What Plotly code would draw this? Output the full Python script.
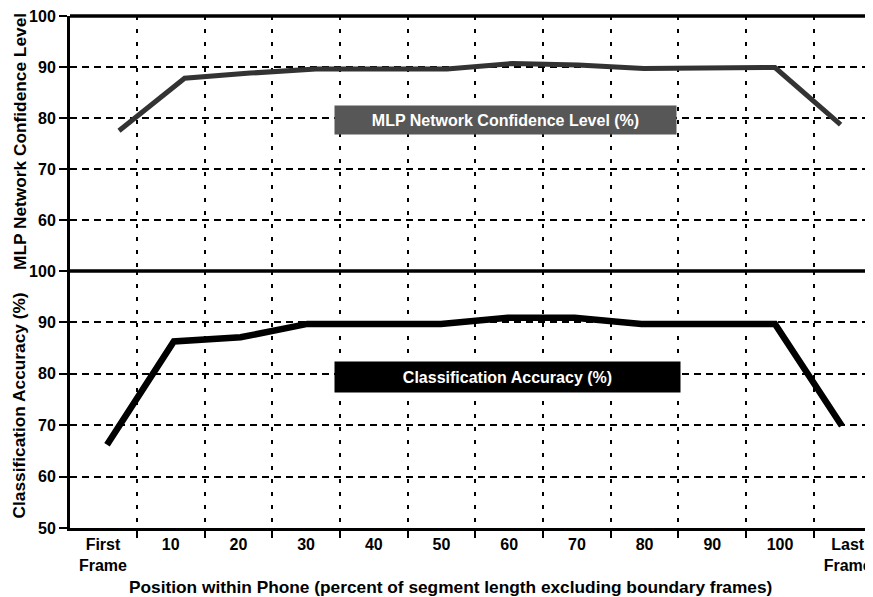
import plotly.graph_objects as go

# ---- data ----
categories = ["First<br>Frame", "10", "20", "30", "40", "50", "60", "70", "80", "90", "100", "Last<br>Frame"]
confidence = [77.5, 87.8, 88.8, 89.6, 89.6, 89.6, 90.7, 90.4, 89.7, 89.7, 89.9, 78.7]
accuracy = [66.2, 86.3, 87.1, 89.7, 89.7, 89.7, 90.9, 90.9, 89.7, 89.7, 89.7, 69.9]
top_ticks = [60, 70, 80, 90, 100]
bottom_ticks = [50, 60, 70, 80, 90, 100]

FONT = "Liberation Sans, Arial, Helvetica, sans-serif"
idx = list(range(len(categories)))

fig = go.Figure()
# empty traces so that both grid subplots (x/y and x/y2) exist
fig.add_trace(go.Scatter(x=[None], y=[None], xaxis="x", yaxis="y", showlegend=False, hoverinfo="skip"))
fig.add_trace(go.Scatter(x=[None], y=[None], xaxis="x", yaxis="y2", showlegend=False, hoverinfo="skip"))
# data series on their own (hidden) horizontal scales
fig.add_trace(go.Scatter(x=idx, y=confidence, xaxis="x2", yaxis="y", mode="lines",
                         line=dict(color="#333333", width=5), showlegend=False, hoverinfo="skip"))
fig.add_trace(go.Scatter(x=idx, y=accuracy, xaxis="x3", yaxis="y2", mode="lines",
                         line=dict(color="black", width=6.5), showlegend=False, hoverinfo="skip"))

ydiv = 0.502
grid_common = dict(showgrid=True, gridcolor="black", gridwidth=2, griddash="7px,5px",
                   zeroline=False, showline=True, linecolor="black", linewidth=3,
                   ticks="outside", ticklen=8, tickwidth=2, tickcolor="black",
                   ticklabeloverflow="allow",
                   tickfont=dict(family=FONT, size=16, color="black", weight="bold"),
                   range=[50, 100], fixedrange=True)

fig.update_layout(
    width=873, height=589, autosize=False,
    margin=dict(l=62, r=0, t=6, b=69),
    paper_bgcolor="white", plot_bgcolor="rgba(0,0,0,0)",
    showlegend=False,
    xaxis=dict(domain=[0, 1], anchor="y2", range=[-0.487, 11.492], tickmode="array", tickvals=idx,
               ticktext=categories, showgrid=False, zeroline=False, showline=True, linecolor="black",
               linewidth=3, ticks="", fixedrange=True, ticklabeloverflow="allow",
               tickfont=dict(family=FONT, size=16, color="black", weight="bold"),
               minor=dict(tickmode="linear", tick0=0.5, dtick=1, showgrid=True, gridcolor="black",
                          gridwidth=2, griddash="4px,9px", ticks="outside", ticklen=7, tickwidth=2,
                          tickcolor="black")),
    xaxis2=dict(domain=[0, 1], anchor="y", range=[-0.747, 11.616], visible=False, fixedrange=True),
    xaxis3=dict(domain=[0, 1], anchor="y2", range=[-0.554, 11.587], visible=False, fixedrange=True),
    yaxis=dict(domain=[ydiv, 1], anchor="x", tickmode="array", tickvals=top_ticks, **grid_common),
    yaxis2=dict(domain=[0, ydiv], anchor="x", tickmode="array", tickvals=bottom_ticks, **grid_common),
)

# frame lines (top border and the panel separator)
for yy in [1, ydiv]:
    fig.add_shape(type="line", xref="paper", yref="paper", x0=0, x1=1, y0=yy, y1=yy,
                  line=dict(color="black", width=3.5), layer="above")

# legend-like labels
fig.add_annotation(xref="paper", yref="paper", x=0.5370, y=0.7977, xanchor="center", yanchor="middle",
                   text="MLP Network Confidence Level (%)", showarrow=False,
                   width=341, height=28, bgcolor="#575757", borderpad=0,
                   font=dict(family=FONT, size=16, color="white", weight="bold"))
fig.add_annotation(xref="paper", yref="paper", x=0.5395, y=0.2957, xanchor="center", yanchor="middle",
                   text="Classification Accuracy (%)", showarrow=False,
                   width=345, height=30, bgcolor="black", borderpad=0,
                   font=dict(family=FONT, size=16, color="white", weight="bold"))

# axis titles
fig.add_annotation(xref="paper", yref="paper", x=-0.0617, y=0.7558, xanchor="center", yanchor="middle",
                   text="MLP Network Confidence Level", textangle=-90, showarrow=False,
                   font=dict(family=FONT, size=17.3, color="black", weight="bold"))
fig.add_annotation(xref="paper", yref="paper", x=-0.0617, y=0.2393, xanchor="center", yanchor="middle",
                   text="Classification Accuracy (%)", textangle=-90, showarrow=False,
                   font=dict(family=FONT, size=17.3, color="black", weight="bold"))
fig.add_annotation(xref="paper", yref="paper", x=0.4686, y=-0.115, xanchor="center", yanchor="middle",
                   text="Position within Phone (percent of segment length excluding boundary frames)",
                   showarrow=False, font=dict(family=FONT, size=17.3, color="black", weight="bold"))

fig.write_html("out.html")
